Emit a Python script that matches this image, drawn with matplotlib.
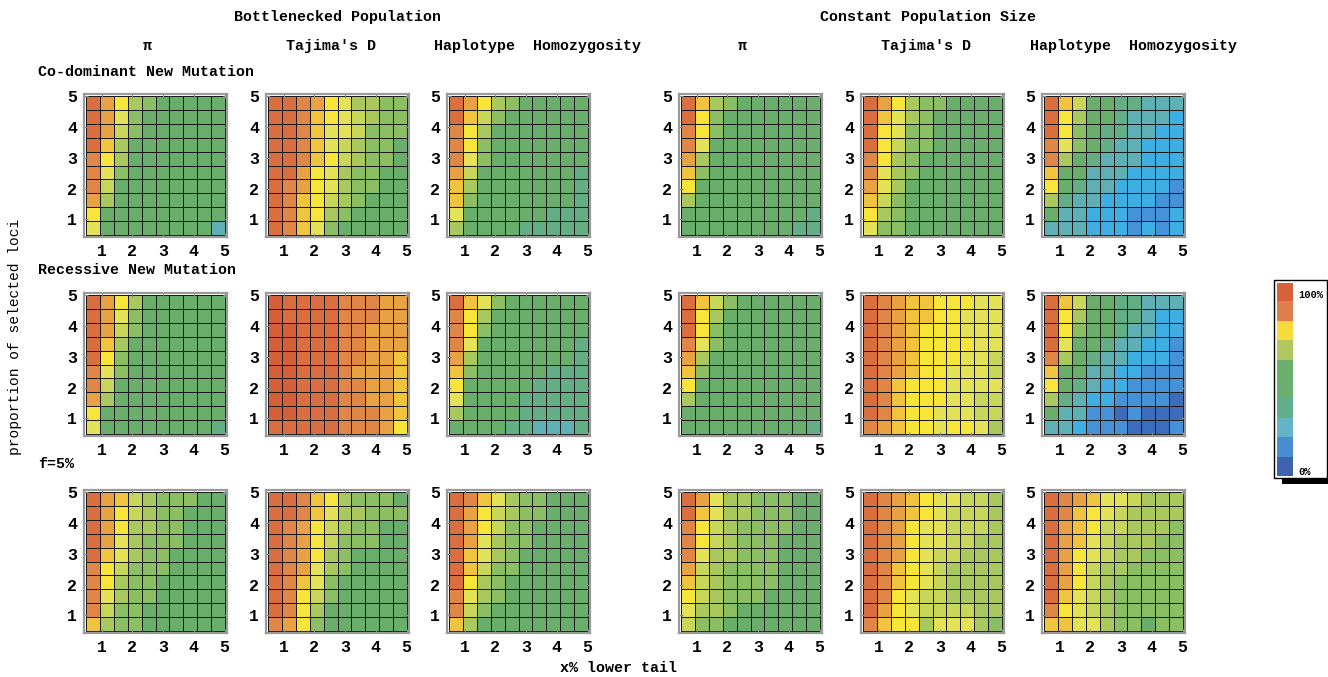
import numpy as np
import matplotlib
matplotlib.use("Agg")
import matplotlib.pyplot as plt
from matplotlib.colors import ListedColormap
from matplotlib.patches import Rectangle

# Cell levels: one hex digit per cell, 0 (0%) .. f (100%).
# Each panel: rows from top (y=5) to bottom (y=0.5), columns x=0.5 .. 5.
bott_codom_pi = ["eca7655555", "ec96555555", "ec86555555", "eb75555555", "da75555555",
                 "d965555555", "d855555555", "c755555555", "a555555555", "9555555553"]
bott_codom_taj = ["eedca97766", "eedba98766", "eedb998666", "eedb987665", "eedba87665",
                  "eeca976655", "edca976655", "edba876555", "edba765555", "edb9655555"]
bott_codom_hap = ["eca7655555", "eb86555555", "da75555555", "da65555555", "d965555555",
                  "c855555554", "b755555554", "b655555554", "9555555444", "7555544444"]

bott_rec_pi = ["eca7555555", "ec96555555", "ec86555555", "eb75555555", "ea65555555",
               "d965555555", "d855555555", "c755555555", "a555555555", "9555555554"]
bott_rec_taj = ["feeeedddcc", "feeeedddcc", "ffeeeddccc", "ffeeeddccc", "ffeeeddccb",
                "ffeeedcccb", "ffeeeddccb", "ffeeeddccb", "ffeeedddcb", "eeeeedddca"]
bott_rec_hap = ["eb96555555", "da75555555", "da65555555", "d955555554", "c755555554",
                "b655555444", "a555554444", "9555544444", "7555544444", "5555443334"]

bott_f5_pi = ["ecb8766655", "eca8766555", "eca7766555", "ec97666555", "eb97665555",
              "da86665555", "da76655555", "d976655555", "d866555555", "b766555555"]
bott_f5_taj = ["eedba76665", "eedb977666", "edca876655", "edca866655", "edca765555",
               "edc9765555", "edb9655555", "eda8655555", "eda7555555", "dca6555555"]
bott_f5_hap = ["edb9766555", "eca8766555", "eca8665555", "ec97665555", "eb97655555",
               "eb86655555", "ea76555555", "d976555555", "d865555555", "b755555555"]

const_codom_pi = ["eb76555555", "ea65555555", "da65555555", "d955555555", "c755555555",
                  "b655555555", "a555555555", "7555555555", "5555555554", "5555555544"]
const_codom_taj = ["eca7665555", "eb97655555", "ea96655555", "ea86655555", "da76555555",
                   "d976555555", "c975555555", "b865555555", "a765555555", "9665555555"]
const_codom_hap = ["eb85544333", "ea75543332", "ea65443322", "d965433222", "d754333222",
                   "b553332222", "a543322221", "7433222211", "5332221112", "3332221212"]

const_rec_pi = ["eb86555555", "ea75555555", "ea65555555", "d965555555", "c755555555",
                "b655555555", "a555555555", "7555555555", "5555555555", "5555555554"]
const_rec_taj = ["edcbbaaa99", "edcbbaa999", "edcbaaa999", "edcbaaaa99", "edcbaaa998",
                 "edcbaa9998", "edbaaa9999", "edbaaa9988", "edbaa99988", "dcbaa9aa97"]
const_rec_hap = ["eb85544333", "ea75544322", "ea65543322", "e955433221", "d754332221",
                 "b553322111", "a543221111", "7432211110", "5331101000", "3321110001"]

const_f5_pi = ["ec97766655", "eb97766655", "da87666655", "da87666555", "d977666555",
               "c876666555", "b876666555", "a876665555", "9776555555", "8665555555"]
const_f5_taj = ["edcba99887", "edcba98887", "edca998887", "edca998877", "edca988777",
                "edba987777", "edba987777", "eda9887777", "eca9888877", "dbaa799976"]
const_f5_hap = ["edcb998777", "edba987777", "ecba887776", "ecb9877766", "eca9877666",
                "eca8776666", "eca8766666", "eb98766666", "da98766666", "bb99766566"]

grid = [
    [bott_codom_pi, bott_codom_taj, bott_codom_hap, const_codom_pi, const_codom_taj, const_codom_hap],
    [bott_rec_pi, bott_rec_taj, bott_rec_hap, const_rec_pi, const_rec_taj, const_rec_hap],
    [bott_f5_pi, bott_f5_taj, bott_f5_hap, const_f5_pi, const_f5_taj, const_f5_hap],
]

palette = ["#3d6cbc", "#4592d8", "#3faee2", "#5eb0b4", "#64ae86", "#6aae6c", "#8cbe64", "#a9c95e",
           "#c8d65a", "#e4e256", "#f7e53a", "#f0c43e", "#e8a244", "#e08646", "#da6e3e", "#d65f38"]
legend_colors = ["#d9613a", "#e07d4a", "#f6db3a", "#b0c85e", "#6caf6c",
                 "#6aae70", "#60ae8c", "#62b4c6", "#4a8cd2", "#3d62ae"]
cmap = ListedColormap(palette)

W, H = 1328, 677
fig = plt.figure(figsize=(W / 100, H / 100), dpi=100)
mono = "Liberation Mono"


def box(x0, y0, x1, y1):
    # pixel box (top-left origin) -> figure fraction rect
    return [x0 / W, 1 - y1 / H, (x1 - x0) / W, (y1 - y0) / H]


col_left = [84, 266, 447, 679, 861, 1042]
row_top = [94, 293, 490]
pw = 143
edges = np.linspace(0.5, 5.0, 11)

for r, top in enumerate(row_top):
    for c, left in enumerate(col_left):
        rows = grid[r][c]
        z = np.array([[int(ch, 16) for ch in line] for line in rows[::-1]])
        ax = fig.add_axes(box(left, top, left + pw, top + pw))
        ax.pcolormesh(edges, edges, z, cmap=cmap, vmin=-0.5, vmax=15.5,
                      edgecolors="#1a1a1a", linewidth=0.6)
        ax.set_xlim(0.42, 5.08)
        ax.set_ylim(0.42, 5.08)
        ax.set_xticks([1, 2, 3, 4, 5])
        ax.set_yticks([1, 2, 3, 4, 5])
        ax.tick_params(direction="in", length=3, color="#888888", top=True, right=True,
                       labelsize=12, pad=5)
        for lab in ax.get_xticklabels() + ax.get_yticklabels():
            lab.set_fontfamily(mono)
            lab.set_fontweight("bold")
        for s in ax.spines.values():
            s.set_color("#9a9a9a")
            s.set_linewidth(1.6)

# headings
hkw = dict(fontfamily=mono, fontweight="bold", fontsize=10.8, va="center")
fig.text(338 / W, 1 - 17 / H, "Bottlenecked Population", ha="center", **hkw)
fig.text(928 / W, 1 - 17 / H, "Constant Population Size", ha="center", **hkw)
col_titles = ["π", "Tajima's D", "Haplotype  Homozygosity"]
col_x = [147, 331, 538, 742, 926, 1133]
for i, x in enumerate(col_x):
    fig.text(x / W, 1 - 46 / H, col_titles[i % 3], ha="center", **hkw)
fig.text(38 / W, 1 - 72 / H, "Co-dominant New Mutation", ha="left", **hkw)
fig.text(38 / W, 1 - 270 / H, "Recessive New Mutation", ha="left", **hkw)
fig.text(38 / W, 1 - 464 / H, "f=5%", ha="left", **hkw)
fig.text(15 / W, 1 - 337 / H, "proportion of selected loci", rotation=90, ha="center",
         va="center", fontfamily=mono, fontsize=10.5)
fig.text(618 / W, 1 - 668 / H, "x% lower tail", ha="center", **hkw)

# scale legend
fig.patches.append(Rectangle((1282 / W, 1 - 484 / H), 46 / W, 8 / H, transform=fig.transFigure,
                             facecolor="black", edgecolor="none", zorder=-2))
fig.patches.append(Rectangle((1274 / W, 1 - 478 / H), 53 / W, 198 / H, transform=fig.transFigure,
                             facecolor="white", edgecolor="black", linewidth=1.0, zorder=-1))
lax = fig.add_axes(box(1277, 283, 1293, 476))
lax.imshow(np.arange(len(legend_colors)).reshape(-1, 1), cmap=ListedColormap(legend_colors),
           aspect="auto", interpolation="nearest")
lax.set_axis_off()
fig.text(1298 / W, 1 - 295 / H, "100%", fontfamily=mono, fontweight="bold", fontsize=7.5, va="center")
fig.text(1298 / W, 1 - 472 / H, "0%", fontfamily=mono, fontweight="bold", fontsize=7.5, va="center")

fig.savefig("out.png", dpi=100)
